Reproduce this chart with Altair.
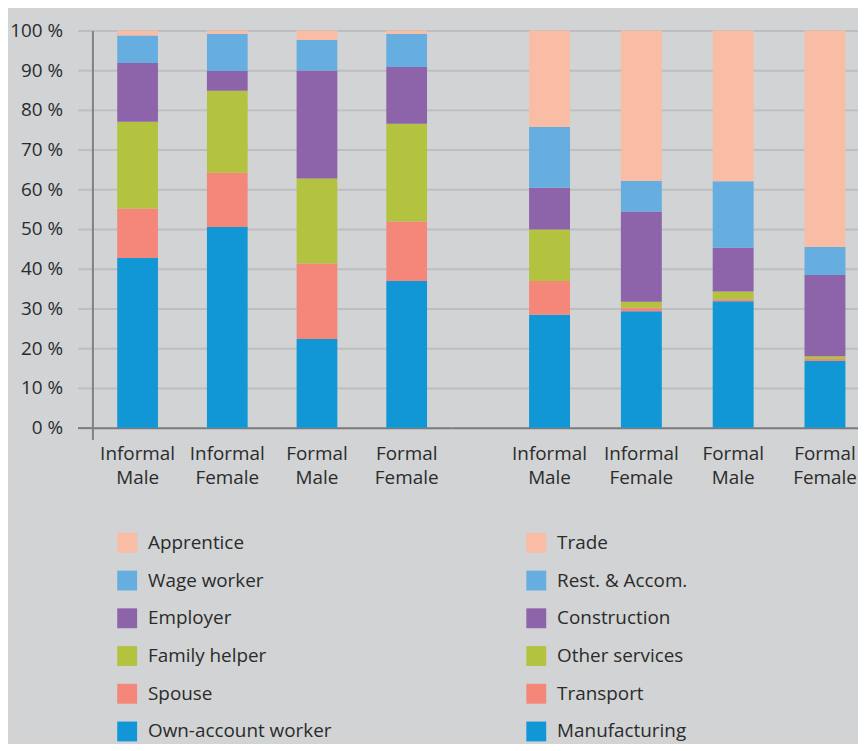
import altair as alt
import pandas as pd

groups = ["Informal Male", "Informal Female", "Formal Male", "Formal Female"]

# Employment status (left panel), bottom to top
status_names = ["Own-account worker", "Spouse", "Family helper", "Employer", "Wage worker", "Apprentice"]
own_account = [42.7, 50.5, 22.3, 36.9]
spouse = [12.5, 13.7, 19.0, 15.0]
family_helper = [21.8, 20.6, 21.4, 24.6]
employer = [14.8, 5.0, 27.2, 14.3]
wage_worker = [6.9, 9.3, 7.7, 8.3]
apprentice = [1.3, 0.9, 2.4, 0.9]

# Sector (right panel), bottom to top
sector_names = ["Manufacturing", "Transport", "Other services", "Construction", "Rest. & Accom.", "Trade"]
manufacturing = [28.4, 29.3, 31.8, 16.8]
transport = [8.5, 0.9, 0.5, 0.5]
other_services = [13.0, 1.5, 2.0, 0.7]
construction = [10.5, 22.7, 11.0, 20.4]
rest_accom = [15.3, 7.7, 16.7, 7.1]
trade = [24.3, 37.9, 38.0, 54.5]

colors = ["#1197d6", "#f48779", "#b3c23f", "#8d63aa", "#66aee0", "#f9bda6"]
y_ticks = [0, 10, 20, 30, 40, 50, 60, 70, 80, 90, 100]

FONT = "Open Sans"
TXT = "#2b2b2b"
BG = "#d1d3d4"
GRID = "#bcbec0"
AXC = "#7a7b7d"


def long_table(names, series):
    rows = []
    for k, (name, vals) in enumerate(zip(names, series)):
        for g, v in zip(groups, vals):
            rows.append({"group": g, "cat": name, "rank": k, "value": v})
    return pd.DataFrame(rows)


status_df = long_table(status_names, [own_account, spouse, family_helper, employer, wage_worker, apprentice])
sector_df = long_table(sector_names, [manufacturing, transport, other_services, construction, rest_accom, trade])

cond_color = {"condition": {"test": "datum.value === 0", "value": AXC}, "value": GRID}

y_scale = alt.Scale(domain=[-3, 100], nice=False, zero=False)

x_axis = alt.Axis(
    title=None, labelAngle=0, labelExpr="split(datum.label, ' ')", domain=False, ticks=False,
    labelFontSize=19, labelFont=FONT, labelColor=TXT, labelPadding=5, labelLineHeight=24,
    labelBaseline="top",
)

y_axis_left = alt.Axis(
    values=y_ticks, labelExpr="datum.value + ' %'", title=None, grid=True,
    gridColor=cond_color, gridWidth=2, tickColor=cond_color, tickSize=15, tickWidth=2,
    domainColor="#808184", domainWidth=2, labelFontSize=19, labelFont=FONT, labelColor=TXT,
    labelPadding=15, minExtent=85, maxExtent=85,
)
y_axis_right = alt.Axis(
    values=y_ticks, title=None, grid=True, gridColor=cond_color, gridWidth=2,
    labels=False, ticks=False, domain=False, minExtent=0, maxExtent=0,
)


def legend(x):
    return alt.Legend(
        title=None, orient="none", legendX=x, legendY=506, direction="vertical",
        symbolType="square", symbolSize=400, symbolStrokeWidth=0, symbolOpacity=1,
        labelFontSize=19, labelFont=FONT, labelColor=TXT, labelOffset=11, labelLimit=400,
        rowPadding=18, padding=0,
    )


left = alt.Chart(status_df).mark_bar().encode(
    x=alt.X("group:N", sort=groups, axis=x_axis,
            scale=alt.Scale(paddingInner=0.546, paddingOuter=0.2768)),
    y=alt.Y("value:Q", stack="zero", scale=y_scale, axis=y_axis_left),
    color=alt.Color("cat:N", scale=alt.Scale(domain=status_names[::-1], range=colors[::-1]),
                    legend=legend(25)),
    order=alt.Order("rank:Q", sort="ascending"),
).properties(width=362, height=412)

right = alt.Chart(sector_df).mark_bar().encode(
    x=alt.X("group:N", sort=groups, axis=x_axis,
            scale=alt.Scale(paddingInner=0.5543, paddingOuter=0.489, align=0.86)),
    y=alt.Y("value:Q", stack="zero", scale=y_scale, axis=y_axis_right),
    color=alt.Color("cat:N", scale=alt.Scale(domain=sector_names[::-1], range=colors[::-1]),
                    legend=legend(75)),
    order=alt.Order("rank:Q", sort="ascending"),
).properties(width=409, height=412)

chart = alt.hconcat(left, right, spacing=0).resolve_scale(
    color="independent", x="independent"
).resolve_legend(color="independent").properties(
    padding={"left": 0, "top": 11, "right": 0, "bottom": 0},
    background=BG,
).configure_view(strokeWidth=0)

chart.save("out.html", embed_options={"renderer": "svg", "actions": False})
